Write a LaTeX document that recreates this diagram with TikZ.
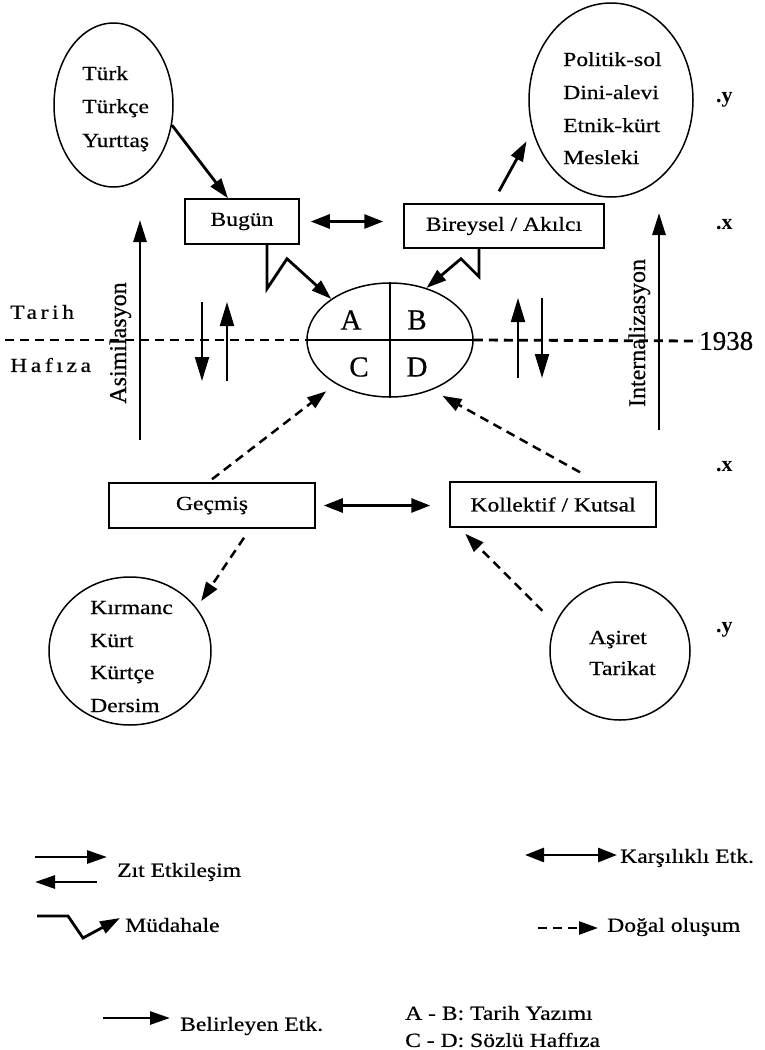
\documentclass[tikz,border=0pt]{standalone}
\usepackage{fontspec}
\setmainfont{Liberation Serif}
\newfontfamily\wf[FakeStretch=1.18,FakeBold=0.5]{Liberation Serif}
\newfontfamily\nf[FakeBold=0.5]{Liberation Serif}
\newfontfamily\spacedfnt[FakeStretch=1.18,FakeBold=0.5,LetterSpace=18]{Liberation Serif}
\usetikzlibrary{shapes.geometric,arrows.meta}
\newcommand\mainfnt{\wf\fontsize{20}{24}\selectfont}
\tikzset{
  box/.style={draw,line width=1.5pt,inner sep=0pt,font=\mainfnt},
  ell/.style={draw,ellipse,line width=1.5pt,inner sep=0pt},
  lst/.style={anchor=base west,inner sep=0pt,font=\mainfnt},
  lbl/.style={anchor=west,inner sep=0pt,font=\mainfnt},
  letter/.style={inner sep=0pt,font=\nf\fontsize{29}{32}\selectfont},
  xymark/.style={anchor=west,inner sep=0pt,font=\bfseries\fontsize{22}{24}\selectfont},
  arr/.style={line width=2.8pt,-{Triangle[length=20pt,width=13pt]}},
  dbl/.style={line width=2.8pt,{Triangle[length=19pt,width=14pt]}-{Triangle[length=19pt,width=14pt]}},
  dsh/.style={line width=2.5pt,dash pattern=on 9pt off 6pt,-{Triangle[length=19pt,width=13pt]}},
  tall/.style={line width=2.8pt,-{Triangle[length=22pt,width=13pt]}},
  small/.style={line width=2pt,-{Triangle[length=24pt,width=14pt]}},
  dline/.style={line width=2.8pt,dash pattern=on 9pt off 6pt},
  rot/.style={rotate=90,anchor=base,inner sep=0pt,font=\nf\fontsize{24}{26}\selectfont}
}
\begin{document}
\begin{tikzpicture}[x=1pt,y=-1pt]
\useasboundingbox (0,0) rectangle (765,1050);
% boxes
\node[box,minimum width=114pt,minimum height=45pt] (bugun) at (242,221.5) {Bugün};
\node[box,minimum width=200pt,minimum height=44pt] (bireysel) at (504,226) {Bireysel / Akılcı};
\node[box,minimum width=206pt,minimum height=45pt] (gecmis) at (212,505.5) {Geçmiş};
\node[box,minimum width=206pt,minimum height=45pt] (kollektif) at (553,504.5) {Kollektif / Kutsal};
% ellipses
\node[ell,minimum width=119pt,minimum height=164pt] (turk) at (113.5,105) {};
\node[ell,minimum width=164pt,minimum height=194pt] (politik) at (611,100) {};
\node[ell,minimum width=166pt,minimum height=114pt] (mid) at (390,340) {};
\node[ell,minimum width=162pt,minimum height=148pt] (kirmanc) at (130,651) {};
\node[ell,minimum width=140pt,minimum height=138pt] (asiret) at (620,651) {};
% ellipse texts
\node[lst] (t1) at (82,80) {Türk};
\node[lst] (t2) at (82,113) {Türkçe};
\node[lst] (t3) at (82,147) {Yurttaş};
\node[lst] (p1) at (563,66) {Politik-sol};
\node[lst] (p2) at (563,99) {Dini-alevi};
\node[lst] (p3) at (563,132) {Etnik-kürt};
\node[lst] (p4) at (563,164) {Mesleki};
\node[lst] (k1) at (90,614) {Kırmanc};
\node[lst] (k2) at (90,647) {Kürt};
\node[lst] (k3) at (90,679) {Kürtçe};
\node[lst] (k4) at (90,712) {Dersim};
\node[lst] (a1) at (589,644) {Aşiret};
\node[lst] (a2) at (589,675) {Tarikat};
% central ellipse division
\draw[line width=2.2pt] (mid.west) -- (mid.east);
\draw[line width=1.3pt] (mid.north) -- (mid.south);
\node[letter] (A) at (351,320) {A};
\node[letter] (B) at (417,320) {B};
\node[letter] (C) at (359,367) {C};
\node[letter] (D) at (417,367) {D};
% dashed time line
\coordinate (dl) at (5,340);
\node[anchor=west,inner sep=0pt,font=\nf\fontsize{27}{29}\selectfont] (y1938) at (699,341) {1938};
\draw[dline] (dl) -- (mid.west);
\draw[dline] (mid.east) -- (y1938.west);
\node[anchor=west,inner sep=0pt,font=\spacedfnt\fontsize{20}{24}\selectfont] (tarih) at (10,312) {Tarih};
\node[anchor=west,inner sep=0pt,font=\spacedfnt\fontsize{20}{24}\selectfont] (hafiza) at (10,365) {Hafıza};
% marks
\node[xymark] (y1) at (716,100) {.y};
\node[xymark] (x1) at (716,225) {.x};
\node[xymark] (x2) at (716,467) {.x};
\node[xymark] (y2) at (716,630) {.y};
% side arrows
\coordinate (asB) at (140,440); \coordinate (asT) at (140,220);
\draw[tall] (asB) -- (asT);
\node[rot] (asim) at (126,343) {Asimilasyon};
\coordinate (inB) at (659,430); \coordinate (inT) at (659,213);
\draw[tall] (inB) -- (inT);
\node[rot] (intern) at (645,333) {Internalizasyon};
% small vertical arrows
\coordinate (l1t) at (202,302); \coordinate (l1b) at (202,381);
\coordinate (l2b) at (227,381); \coordinate (l2t) at (227,302);
\coordinate (r1b) at (518,378); \coordinate (r1t) at (518,298);
\coordinate (r2t) at (542,298); \coordinate (r2b) at (542,378);
\draw[small] (l1t) -- (l1b);
\draw[small] (l2b) -- (l2t);
\draw[small] (r1b) -- (r1t);
\draw[small] (r2t) -- (r2b);
% connectors
\draw[arr] (turk.-19) -- ([xshift=-14pt]bugun.north);
\draw[dbl] ([xshift=11pt]bugun.east) -- ([xshift=-20pt]bugun.east -| bireysel.west);
\draw[arr] ([xshift=-5pt,yshift=12pt]bireysel.north) -- ([shift={(-8pt,-4pt)}]politik.206);
\draw[arr,line join=miter] ([xshift=25pt]bugun.south) -- ++(0,44) -- ++(20,-30) -- (mid.145);
\draw[arr,line join=miter] ([xshift=-25pt]bireysel.south) -- ++(0,28) -- ++(-18,-18) -- (mid.55);
\draw[dsh,shorten >=12pt] ([yshift=3pt]gecmis.north) -- (mid.219);
\draw[dsh,shorten >=12pt] ([xshift=27pt,yshift=9pt]kollektif.north) -- (mid.-50);
\draw[dbl] ([xshift=8pt]gecmis.east) -- ([xshift=-19pt]gecmis.east -| kollektif.west);
\draw[dsh,shorten >=8pt] ([xshift=32pt,yshift=-9pt]gecmis.south) -- (kirmanc.33);
\draw[dsh,shorten <=18pt] (asiret.157) -- ([xshift=16pt,yshift=-6pt]kollektif.south west);
% legend
\coordinate (z1a) at (35,857); \coordinate (z1b) at (107,857);
\coordinate (z2a) at (97,882); \coordinate (z2b) at (35,882);
\draw[arr] (z1a) -- (z1b);
\draw[arr] (z2a) -- (z2b);
\node[lbl] (zit) at (117,872) {Zıt Etkileşim};
\coordinate (m0) at (37,916); \coordinate (m3) at (120,918);
\draw[arr,line join=miter] (m0) -- ++(31,0) -- ++(15,22) -- (m3);
\node[lbl] (mud) at (125,925) {Müdahale};
\coordinate (be0) at (103,1018); \coordinate (be1) at (170,1018);
\draw[arr] (be0) -- (be1);
\node[lbl] (bel) at (180,1026) {Belirleyen Etk.};
\coordinate (ka0) at (525,855); \coordinate (ka1) at (617,855);
\draw[dbl] (ka0) -- (ka1);
\node[lbl] (kar) at (620,858) {Karşılıklı Etk.};
\coordinate (do0) at (538,928); \coordinate (do1) at (598,928);
\draw[dsh] (do0) -- (do1);
\node[lbl] (dog) at (607,927) {Doğal oluşum};
\node[lbl] (ab) at (405,1013) {A - B: Tarih Yazımı};
\node[lbl] (cd) at (405,1040) {C - D: Sözlü Haffıza};
\end{tikzpicture}
\end{document}
